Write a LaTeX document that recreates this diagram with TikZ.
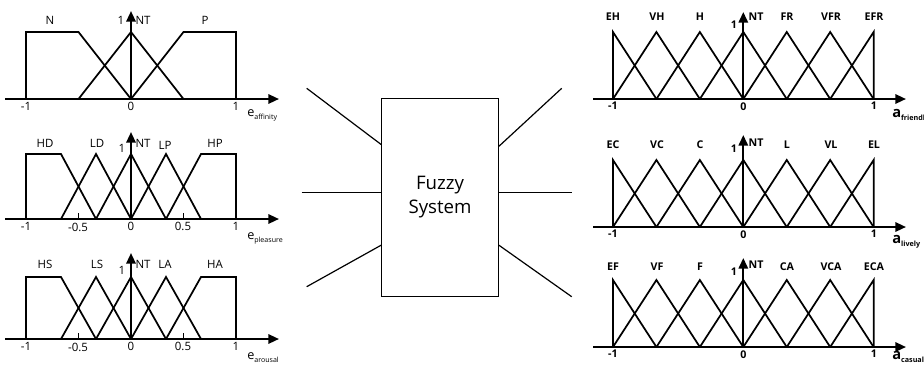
\documentclass[tikz,border=0pt]{standalone}
\usepackage{fontspec}
\setmainfont{Open Sans}
\usetikzlibrary{arrows.meta}
\tikzset{
  mf/.style={line width=1.3pt, line join=miter},
  ax/.style={line width=1.6pt, -{Triangle[length=8pt,width=7pt]}},
  lbl/.style={inner sep=0pt, font=\fontsize{8.6}{9}\selectfont},
  rlbl/.style={inner sep=0pt, font=\fontsize{8}{9}\selectfont\bfseries},
  tk/.style={inner sep=0pt, anchor=north, font=\fontsize{8.6}{9}\selectfont},
  rtk/.style={inner sep=0pt, anchor=north, font=\fontsize{8}{9}\selectfont\bfseries},
  sub/.style={inner sep=0pt, anchor=base west},
  wire/.style={line width=0.9pt},
}
\newcommand{\esub}[1]{{\fontsize{9.5}{9}\selectfont e}\raisebox{-2.4pt}{\fontsize{5.3}{6}\selectfont #1}}
\newcommand{\asub}[1]{{\fontsize{11}{10}\selectfont\bfseries a}\raisebox{-2.4pt}{\fontsize{5.4}{6}\selectfont\bfseries #1}}
\begin{document}
\begin{tikzpicture}[x=0.75pt,y=-0.75pt]
\useasboundingbox (0,0) rectangle (924,365);

% ---------- left panel 1 ----------
\begin{scope}[shift={(131,99)}, x=78.75pt, y=50.25pt]
  \draw[mf] (-1,0) -- (-1,1) -- (-0.5,1) -- (0,0);
  \draw[mf] (-0.5,0) -- (0,1) -- (0.5,0);
  \draw[mf] (0,0) -- (0.5,1) -- (1,1) -- (1,0);
\end{scope}
\coordinate (a1s) at (5,99); \coordinate (a1e) at (279,99);
\coordinate (v1s) at (131,99); \coordinate (v1e) at (131,11);
\draw[ax] (a1s) -- (a1e);
\draw[ax] (v1s) -- (v1e);
\node[lbl] (l1a) at (50,20) {N};
\node[lbl] (l1b) at (121,20) {1};
\node[lbl] (l1c) at (143,20) {NT};
\node[lbl] (l1d) at (205,20) {P};
\node[tk] (t1a) at (26,102) {-1};
\node[tk] (t1b) at (131,102) {0};
\node[tk] (t1c) at (236,102) {1};
\node[sub] (s1) at (247,116) {\esub{affinity}};

% ---------- left panels 2 and 3 ----------
\foreach \Y/\H/\T/\n/\ya/\yb/\yc/\A/\B/\C/\D/\sb/\sy in
  {219/48.75/132/2/143/148/145/HD/LD/LP/HP/pleasure/239,
   339/46.5/253/3/264/270/264/HS/LS/LA/HA/arousal/359}{
  \begin{scope}[shift={(131,\Y)}, x=78.75pt, y=\H pt]
    \draw[mf] (-1,0) -- (-1,1) -- (-2/3,1) -- (-1/3,0);
    \draw[mf] (-2/3,0) -- (-1/3,1) -- (0,0);
    \draw[mf] (-1/3,0) -- (0,1) -- (1/3,0);
    \draw[mf] (0,0) -- (1/3,1) -- (2/3,0);
    \draw[mf] (1/3,0) -- (2/3,1) -- (1,1) -- (1,0);
    \draw[line width=1pt] (-0.5,0) -- (-0.5,0.09);
    \draw[line width=1pt] (0.5,0) -- (0.5,0.09);
  \end{scope}
  \coordinate (a\n s) at (5,\Y); \coordinate (a\n e) at (279,\Y);
  \coordinate (v\n s) at (131,\Y); \coordinate (v\n e) at (131,\T);
  \draw[ax] (a\n s) -- (a\n e);
  \draw[ax] (v\n s) -- (v\n e);
  \node[lbl] (l\n a) at (45,\ya) {\A};
  \node[lbl] (l\n b) at (97,\ya) {\B};
  \node[lbl] (l\n c) at (122,\yb) {1};
  \node[lbl] (l\n d) at (143,\ya) {NT};
  \node[lbl] (l\n e) at (165,\yc) {\C};
  \node[lbl] (l\n f) at (215,\ya) {\D};
  \node[tk] (t\n a) at (26,\Y+3) {-1};
  \node[tk] (t\n b) at (78,\Y+4) {-0.5};
  \node[tk] (t\n c) at (131,\Y+3) {0};
  \node[tk] (t\n d) at (183,\Y+3) {0.5};
  \node[tk] (t\n e) at (236,\Y+3) {1};
  \node[sub] (s\n) at (247,\sy) {\esub{\sb}};
}

% ---------- right panels ----------
\foreach \Y/\T/\n/\ly/\oy/\nty/\La/\Lb/\Lc/\Ld/\Le/\Lf/\sb/\sy in
  {99/12/4/17/25/17/EH/VH/H/FR/VFR/EFR/friendl/117,
   227/135/5/145/149/143/EC/VC/C/L/VL/EL/lively/243,
   347/258/6/267/272/265/EF/VF/F/CA/VCA/ECA/casual/359}{
  \begin{scope}[shift={(743.3,\Y)}, x=97.75pt, y=50.25pt]
    \draw[mf] (-1,0) -- (-1,1) -- (-2/3,0);
    \foreach \p in {-2,-1,0,1,2}{
      \draw[mf] ({(\p-1)/3},0) -- ({\p/3},1) -- ({(\p+1)/3},0);
    }
    \draw[mf] (2/3,0) -- (1,1) -- (1,0);
  \end{scope}
  \coordinate (a\n s) at (593,\Y); \coordinate (a\n e) at (906,\Y);
  \coordinate (v\n s) at (743.3,\Y); \coordinate (v\n e) at (743.3,\T);
  \draw[ax] (a\n s) -- (a\n e);
  \draw[ax] (v\n s) -- (v\n e);
  \node[rlbl] (l\n a) at (613,\ly) {\La};
  \node[rlbl] (l\n b) at (657,\ly) {\Lb};
  \node[rlbl] (l\n c) at (700,\ly) {\Lc};
  \node[rlbl] (l\n d) at (734,\oy) {1};
  \node[rlbl] (l\n e) at (756,\nty) {NT};
  \node[rlbl] (l\n f) at (787,\ly) {\Ld};
  \node[rlbl] (l\n g) at (831,\ly) {\Le};
  \node[rlbl] (l\n h) at (874,\ly) {\Lf};
  \node[rtk] (t\n a) at (613,\Y+3) {-1};
  \node[rtk] (t\n b) at (743.3,\Y+3) {0};
  \node[rtk] (t\n c) at (874,\Y+3) {1};
  \node[sub] (s\n) at (892,\sy) {\asub{\sb}};
}

% ---------- fuzzy system ----------
\node[draw, line width=0.9pt, minimum width=87.5pt, minimum height=148.8pt,
      inner sep=0pt, align=center, font=\fontsize{14}{18}\selectfont]
  (fs) at (440,197.5) {Fuzzy\\System};
\coordinate (i1) at (306.7,88.3);
\coordinate (i2) at (301.7,192.3);
\coordinate (i3) at (306.7,286.7);
\coordinate (o1) at (561.7,88.3);
\coordinate (o2) at (571.7,192.3);
\coordinate (o3) at (571.7,296.7);
\draw[wire] (i1) -- (fs.138);
\draw[wire] (i2) -- (i2 -| fs.west);
\draw[wire] (i3) -- (fs.219);
\draw[wire] (o1) -- (fs.41);
\draw[wire] (o2) -- (o2 -| fs.east);
\draw[wire] (o3) -- (fs.321);
\end{tikzpicture}
\end{document}
